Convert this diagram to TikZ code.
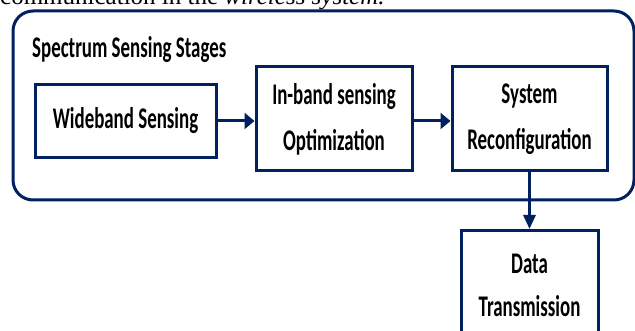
\documentclass[tikz,border=0pt]{standalone}
\usepackage{fontspec}
\setmainfont{Liberation Serif}
\newfontfamily\cf[FakeStretch=0.63]{Carlito}
\usetikzlibrary{arrows.meta}
\definecolor{navy}{HTML}{002060}
\begin{document}
\begin{tikzpicture}[x=1pt,y=-1pt,
  box/.style={draw=navy, line width=3pt, inner sep=0pt, align=center, text=black},
  harr/.style={draw=navy, line width=3pt, -{Triangle[length=10pt,width=16pt]}},
  varr/.style={draw=navy, line width=3pt, -{Triangle[length=14pt,width=12pt]}},
  lbl/.style={font={\cf\bfseries\fontsize{30}{46}\selectfont}}]
\useasboundingbox (0,0) rectangle (635,331);
\clip (0,0) rectangle (635,331);
\fill[white] (0,0) rectangle (635,331);
% cut caption text at top
\node[anchor=base west, inner sep=0pt, font=\fontsize{25}{25}\selectfont] (cap) at (0,5) {communication in the \textit{wireless system.}};
% outer frame
\draw[navy, line width=3pt, rounded corners=20pt] (13,11) rectangle (634,200);
\node[anchor=base west, inner sep=0pt, lbl] (title) at (32,58) {Spectrum Sensing Stages};
% boxes
\node[box, lbl, minimum width=181pt, minimum height=73pt] (wb) at (125.5,121) {Wideband Sensing};
\node[box, lbl, minimum width=156pt, minimum height=104pt] (ib) at (334,119) {In-band sensing\\Optimization};
\node[box, lbl, minimum width=155pt, minimum height=104pt] (sr) at (529.5,119) {System\\Reconfiguration};
\node[box, font={\cf\bfseries\fontsize{30}{43}\selectfont}, minimum width=137pt, minimum height=110pt, anchor=north] (dt) at (529.5,229) {Data\\Transmission};
% arrows
\draw[harr] (wb.east) -- (wb.east -| ib.west);
\draw[harr] (ib.east |- wb.east) -- (sr.west |- wb.east);
\draw[varr] (sr.south) -- (dt.north);
\end{tikzpicture}
\end{document}
